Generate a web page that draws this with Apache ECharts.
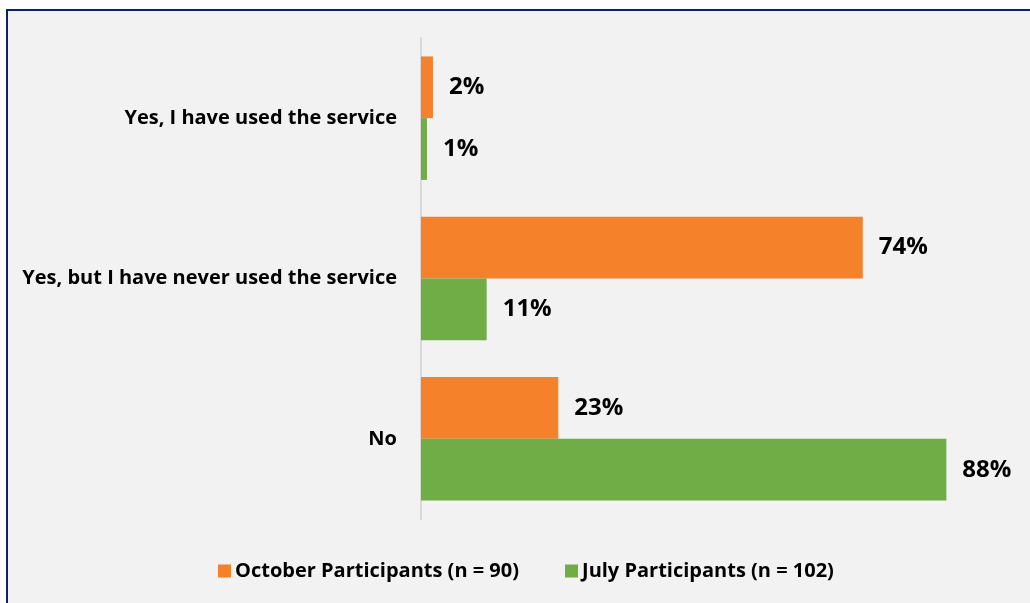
<!DOCTYPE html>
<html>
<head>
<meta charset="utf-8">
<script src="https://cdn.jsdelivr.net/npm/echarts@6/dist/echarts.min.js"></script>
<style>
  html, body { margin: 0; padding: 0; background: #ffffff; }
  #frame {
    position: absolute; left: 6px; top: 9px; width: 1022px; height: 592px;
    background: #f2f2f2; border-top: 2px solid #0a2263; border-left: 2px solid #0a2263;
  }
  #chart { position: absolute; left: 0; top: 0; width: 1030px; height: 603px; }
</style>
</head>
<body>
<div id="frame"></div>
<div id="chart"></div>
<script>
// Survey answers, listed top to bottom
const categories = [
  'Yes, I have used the service',
  'Yes, but I have never used the service',
  'No'
];
const seriesNames = ['October Participants (n = 90)', 'July Participants (n = 102)'];
const octoberValues = [2, 74, 23];
const julyValues = [1, 11, 88];
const seriesColors = ['#f5812a', '#70ad47'];

const fontFamily = '"Open Sans", Lato, sans-serif';

const chart = echarts.init(document.getElementById('chart'), null, { renderer: 'canvas' });

const valueLabel = {
  show: true,
  position: 'right',
  distance: 16,
  formatter: p => p.value + '%',
  color: '#000000',
  fontFamily: fontFamily,
  fontWeight: 'bold',
  fontSize: 24
};

chart.setOption({
  backgroundColor: 'transparent',
  animation: false,
  grid: { left: 421, right: 12, top: 38, bottom: 84, containLabel: false },
  xAxis: {
    type: 'value', min: 0, max: 100, show: false,
    splitLine: { show: false }
  },
  yAxis: {
    type: 'category',
    data: categories,
    inverse: true,
    axisLine: { show: true, lineStyle: { color: '#d9d9d9', width: 2 } },
    axisTick: { show: false },
    axisLabel: {
      margin: 24,
      color: '#000000',
      fontFamily: fontFamily,
      fontWeight: 'bold',
      fontSize: 20
    }
  },
  legend: {
    bottom: 17,
    left: 213,
    itemWidth: 13,
    itemHeight: 13,
    itemGap: 46,
    icon: 'rect',
    textStyle: { color: '#000000', fontFamily: fontFamily, fontWeight: 'bold', fontSize: 20, padding: [0, 0, 0, -1] },
    data: seriesNames
  },
  series: [
    {
      name: seriesNames[0], type: 'bar', data: octoberValues,
      itemStyle: { color: seriesColors[0] },
      barGap: '0%', barCategoryGap: '23%',
      label: valueLabel
    },
    {
      name: seriesNames[1], type: 'bar', data: julyValues,
      itemStyle: { color: seriesColors[1] },
      barGap: '0%', barCategoryGap: '23%',
      label: valueLabel
    }
  ]
});
</script>
</body>
</html>
